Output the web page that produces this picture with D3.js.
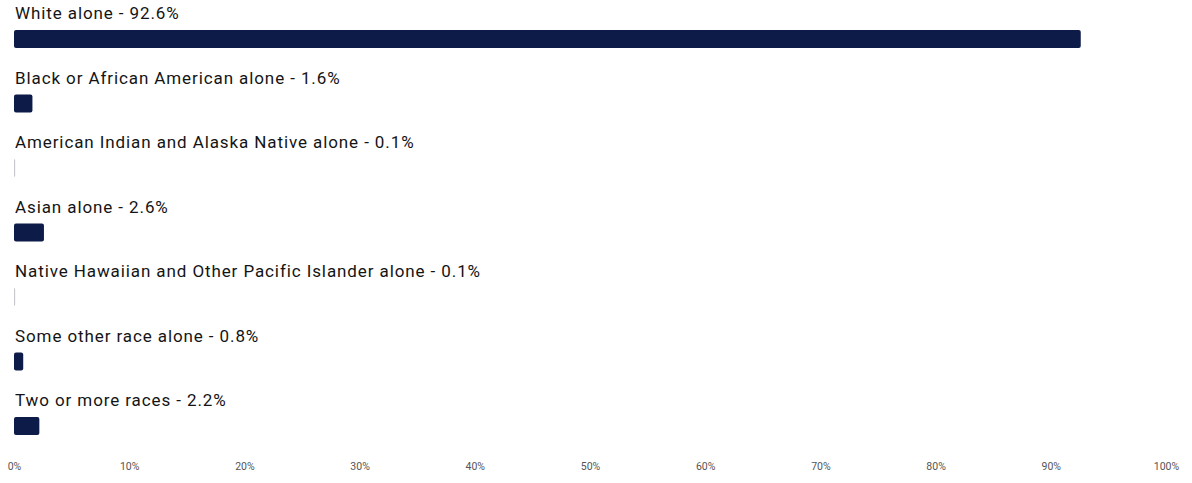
<!DOCTYPE html>
<html>
<head>
<meta charset="utf-8">
<script src="https://cdn.jsdelivr.net/npm/d3@7"></script>
<style>
  html, body { margin: 0; padding: 0; background: #fff; }
  svg { display: block; font-family: Roboto, "Noto Sans", sans-serif; }
</style>
</head>
<body>
<svg id="chart" width="1192" height="483"></svg>
<script>
// Race breakdown, share of population (percent)
const categories = [
  "White alone",
  "Black or African American alone",
  "American Indian and Alaska Native alone",
  "Asian alone",
  "Native Hawaiian and Other Pacific Islander alone",
  "Some other race alone",
  "Two or more races"
];
const values = [92.6, 1.6, 0.1, 2.6, 0.1, 0.8, 2.2];
const tickValues = [0, 10, 20, 30, 40, 50, 60, 70, 80, 90, 100];

const data = categories.map((c, i) => ({ category: c, value: values[i] }));

const svg = d3.select("#chart");

const x = d3.scaleLinear().domain([0, 100]).range([14, 1166]);
const y = d3.scaleBand().domain(categories).range([0, 64.5 * categories.length]);

const barH = 18;
const barOffset = 30;
const barColor = "#0c1b47";

const rows = svg.append("g").selectAll("g")
  .data(data)
  .join("g")
  .attr("transform", d => `translate(0,${y(d.category)})`);

rows.append("text")
  .attr("x", x(0) + 1)
  .attr("y", barOffset - 11)
  .attr("fill", "#141414")
  .attr("font-size", 17)
  .attr("letter-spacing", 0.9)
  .text(d => `${d.category} - ${d.value}%`);

rows.append("rect")
  .attr("x", x(0))
  .attr("y", barOffset)
  .attr("width", d => Math.max(1, x(d.value) - x(0)))
  .attr("height", barH)
  .attr("rx", 2)
  .attr("fill", d => d.value < 0.5 ? "#c8c8cc" : barColor);

// Percentage scale along the bottom, labels only
const axis = d3.axisBottom(x)
  .tickValues(tickValues)
  .tickFormat(d => d + "%")
  .tickSize(0)
  .tickPadding(0);

const gAxis = svg.append("g")
  .attr("transform", "translate(0,463)")
  .call(axis);
gAxis.select(".domain").remove();
gAxis.selectAll("text")
  .attr("fill", "#555")
  .attr("font-size", 10.5)
  .attr("font-family", "Roboto, sans-serif");
</script>
</body>
</html>
